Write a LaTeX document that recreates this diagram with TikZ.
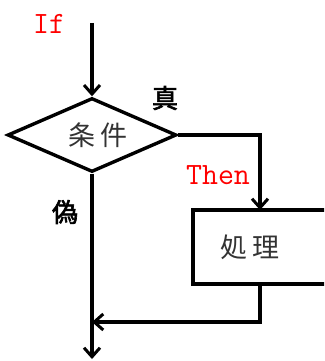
\documentclass[tikz,border=0pt]{standalone}
\usepackage{fontspec}
\newfontfamily\cjk{Noto Sans CJK JP}
\newfontfamily\cjkb{Noto Sans CJK JP}[FakeBold=2.5]
\usetikzlibrary{shapes.geometric,arrows.meta}
\begin{document}
\begin{tikzpicture}[x=1pt,y=-1pt,
  flow/.style={line width=3.4pt},
  arr/.style={flow,-{Straight Barb[length=9pt,width=16pt,line width=3pt]}},
  redlbl/.style={text=red,font=\ttfamily\fontsize{31}{31}\selectfont,inner sep=0pt},
  cjklbl/.style={font=\cjkb\fontsize{26}{26}\selectfont,inner sep=0pt},
  boxtxt/.style={font=\cjk\fontsize{27}{27}\selectfont,inner sep=0pt,text=black!80}]
\useasboundingbox (0,0) rectangle (324,361);
\clip (0,0) rectangle (324,361);
\node[diamond,draw,flow,minimum width=169pt,minimum height=74pt,aspect=2.28,inner sep=0pt] (cond) at (92,135) {};
\node[boxtxt] (condtxt) at (98,135) {条\hspace{6pt}件};
\node[draw,flow,rectangle,minimum width=150pt,minimum height=74pt,inner sep=0pt] (proc) at (268,247) {};
\node[boxtxt] (proctxt) at (250,247) {処\hspace{6pt}理};
\coordinate (start) at (92,23);
\coordinate (pin) at (260,210);
\coordinate (pout) at (260,284);
\coordinate (join) at (92,322);
\coordinate (end) at (92,359);
\draw[arr] (start) -- (cond.north);
\draw[arr] (cond.east) -| (pin);
\draw[arr] (pout) |- (join);
\draw[arr] (cond.south) -- (end);
\node[redlbl] (iflbl) at (49,24) {If};
\node[redlbl] (thenlbl) at (218,175) {Then};
\node[cjklbl] (truelbl) at (165,98) {真};
\node[cjklbl] (falselbl) at (65,212) {偽};
\end{tikzpicture}
\end{document}
